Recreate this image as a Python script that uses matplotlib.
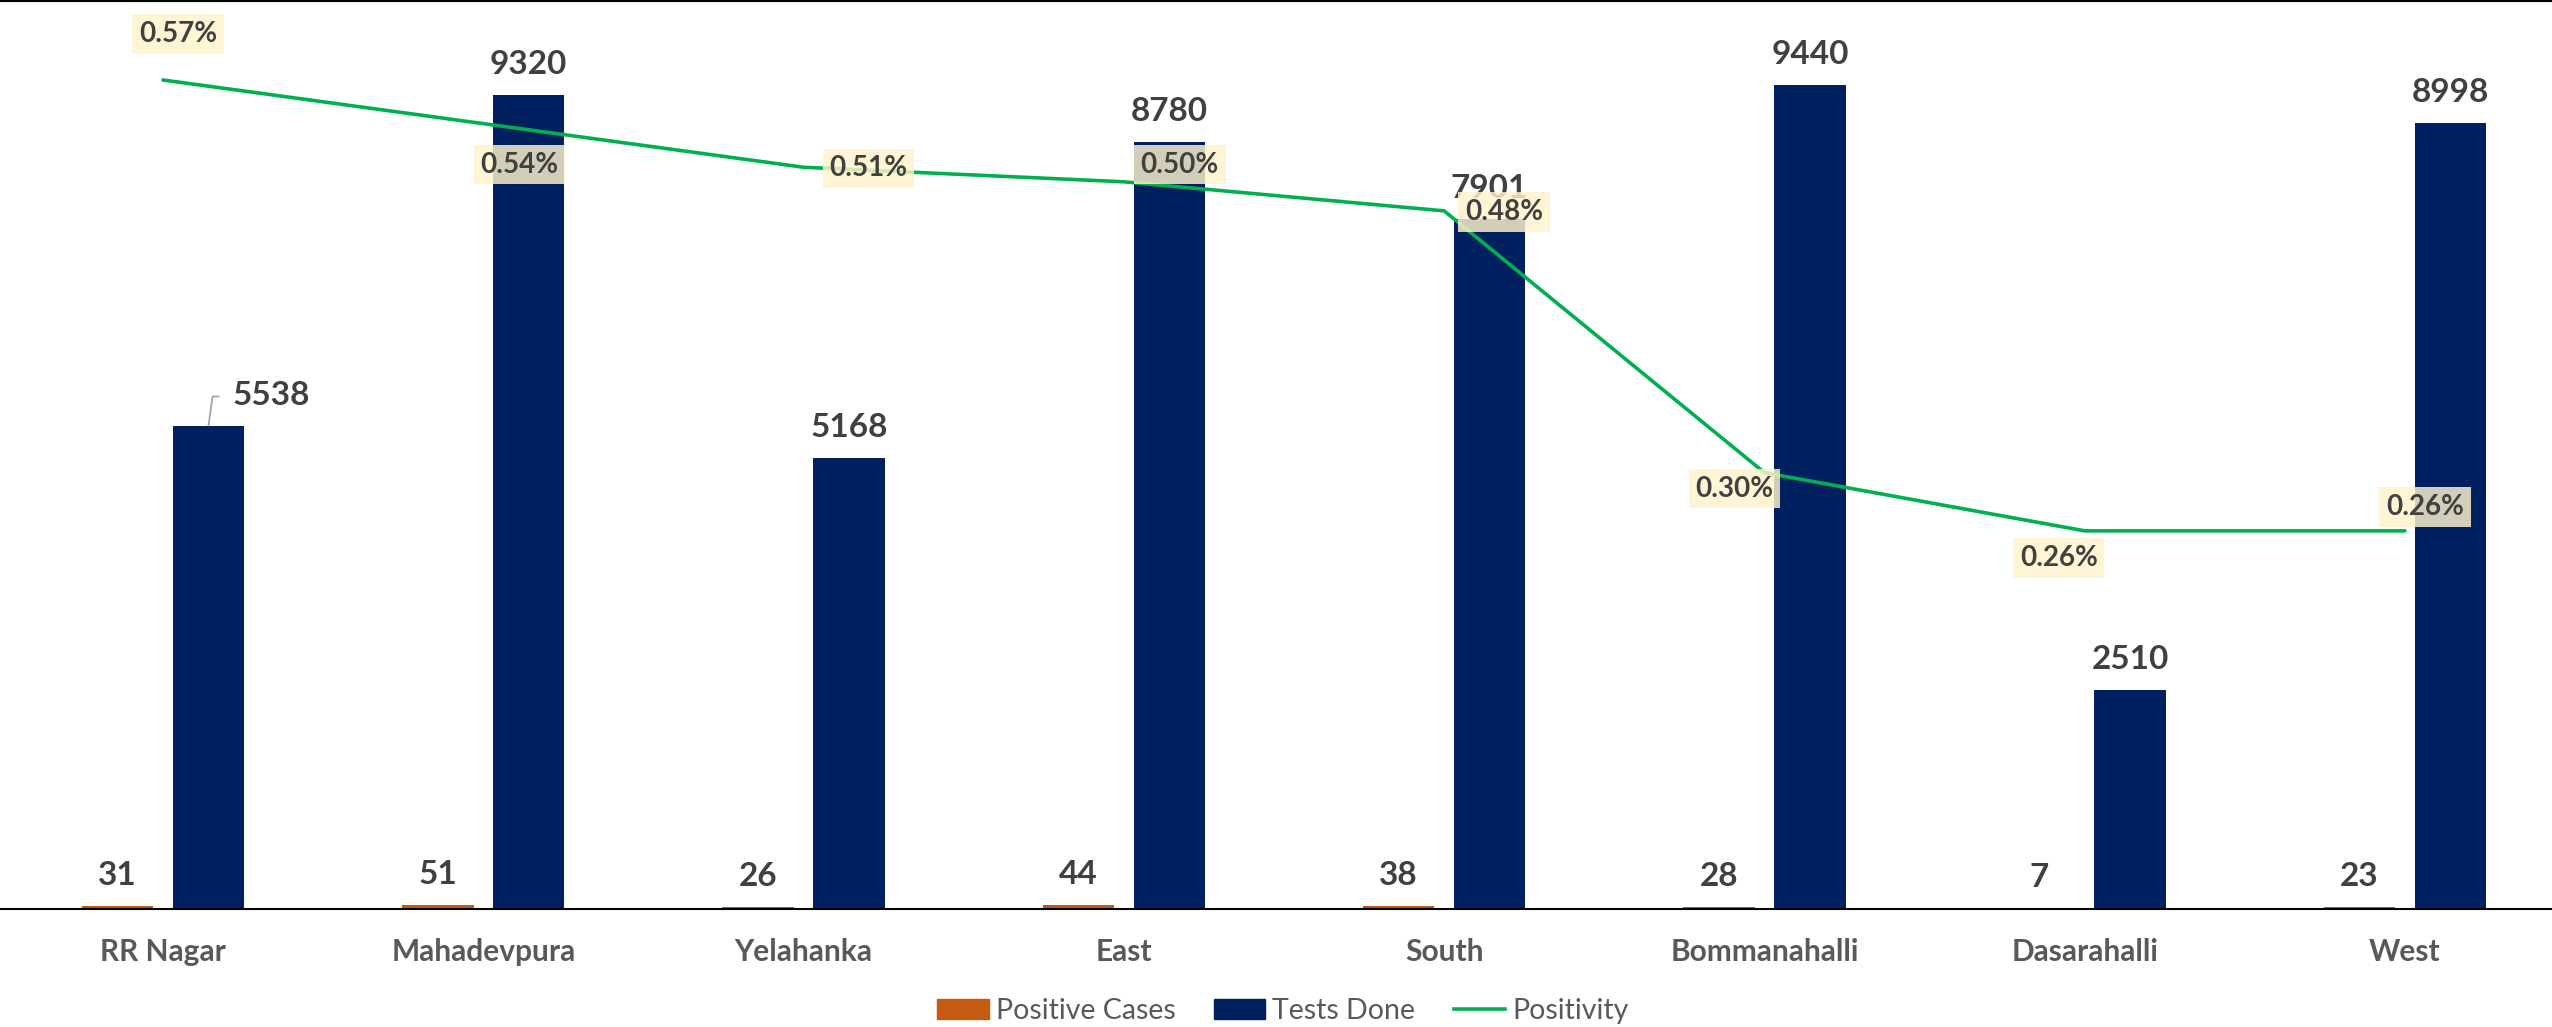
import numpy as np
import matplotlib
matplotlib.use("Agg")
import matplotlib.pyplot as plt
from matplotlib.lines import Line2D
from matplotlib.patches import Patch

plt.rcParams['font.family'] = ['Lato', 'DejaVu Sans']

# data
zones = ['RR Nagar', 'Mahadevpura', 'Yelahanka', 'East', 'South',
         'Bommanahalli', 'Dasarahalli', 'West']
positive_cases = [31, 51, 26, 44, 38, 28, 7, 23]
tests_done = [5538, 9320, 5168, 8780, 7901, 9440, 2510, 8998]
positivity = [0.57, 0.54, 0.51, 0.50, 0.48, 0.30, 0.26, 0.26]  # percent

# where each positivity label sits relative to its point (pixels)
pct_offsets = [(15, 46), (36, -41), (65, -1), (56, 17), (60, -1),
               (-30, -16), (-26, -27), (20, 24)]

ORANGE = '#C55A11'
NAVY = '#002060'
GREEN = '#00B050'
DARK = '#404040'
GREY = '#595959'

fig = plt.figure(figsize=(25.52, 10.27), dpi=100)
ax = fig.add_axes([0, 118 / 1027, 1, 909 / 1027])
ax2 = ax.twinx()

x = np.arange(len(zones))
off = 0.142
w = 0.223

ax.bar(x - off, positive_cases, w, color=ORANGE, zorder=2)
ax.bar(x + off, tests_done, w, color=NAVY, zorder=2)

ax.set_xlim(-0.509, 7.459)
ax.set_ylim(0, 10412)
ax2.set_ylim(0, 0.625)

for s in ['top', 'left', 'right']:
    ax.spines[s].set_visible(False)
ax.spines['bottom'].set_color('black')
ax.spines['bottom'].set_linewidth(1.5)
for s in ax2.spines.values():
    s.set_visible(False)
ax.set_yticks([])
ax2.set_yticks([])
ax.set_xticks([])

# category names under the axis
for xi, name in zip(x, zones):
    ax.text(xi, -0.0473, name, transform=ax.get_xaxis_transform(),
            ha='center', va='center', fontsize=21.5, fontweight='bold', color=GREY)

# value labels for the small orange bars
for xi, v in zip(x, positive_cases):
    ax.annotate(str(v), (xi - off, v), xytext=(0, 21), textcoords='offset pixels',
                ha='center', va='baseline', fontsize=24, fontweight='bold', color=DARK)

# value labels for tests done (first one was dragged aside with a leader)
for i, (xi, v) in enumerate(zip(x, tests_done)):
    if i == 0:
        ax.annotate(str(v), (xi + off, v), xytext=(63, 21), textcoords='offset pixels',
                    ha='center', va='baseline', fontsize=24, fontweight='bold', color=DARK,
                    arrowprops=dict(arrowstyle='-', color='#A6A6A6', lw=1.3,
                                    connectionstyle='angle,angleA=0,angleB=82',
                                    relpos=(0, 0.45), shrinkA=8, shrinkB=0))
    else:
        ax.annotate(str(v), (xi + off, v), xytext=(0, 21), textcoords='offset pixels',
                    ha='center', va='baseline', fontsize=24, fontweight='bold', color=DARK)

# positivity line on the secondary axis
ax2.plot(x, positivity, color=GREEN, lw=2.6, solid_capstyle='round', zorder=3)

for xi, p, (dx, dy) in zip(x, positivity, pct_offsets):
    ax2.annotate(f'{p:.2f}%', (xi, p), xytext=(dx, dy), textcoords='offset pixels',
                 ha='center', va='center', fontsize=20, fontweight='bold', color=DARK,
                 bbox=dict(boxstyle='square,pad=0.24', fc='#FFF2CC', ec='none', alpha=0.83),
                 zorder=4)

# legend
handles = [Patch(color=ORANGE, label='Positive Cases'),
           Patch(color=NAVY, label='Tests Done'),
           Line2D([], [], color=GREEN, lw=2.6, label='Positivity')]
fig.legend(handles=handles, loc='center', bbox_to_anchor=(1283 / 2552, 1 - 1011 / 1027),
           ncol=3, frameon=False, fontsize=20.5, labelcolor=GREY,
           handlelength=1.8, handleheight=0.7, handletextpad=0.25, columnspacing=1.35)

# thin frame line across the top
fig.add_artist(Line2D([0, 1], [0.999, 0.999], color='black', lw=1.5))

fig.savefig('out.png', dpi=100)
